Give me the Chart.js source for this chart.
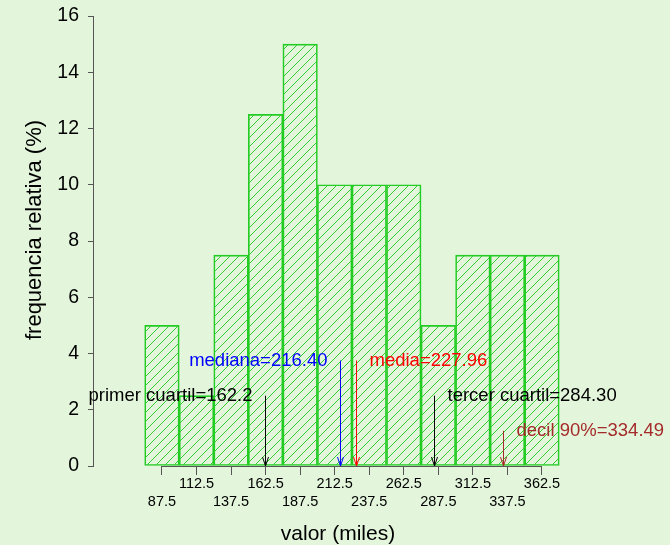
<!doctype html>
<html lang="es">
<head>
<meta charset="UTF-8">
<title>Histograma</title>
<style>
  html, body { margin: 0; padding: 0; background: #e3f6dc; }
  canvas { display: block; }
</style>
</head>
<body>
<canvas id="hist" width="670" height="545"></canvas>
<script src="https://cdn.jsdelivr.net/npm/chart.js@4.4.1/dist/chart.umd.min.js"></script>
<script>
// marcas de clase y frecuencias relativas (%)
var centros = [87.5, 112.5, 137.5, 162.5, 187.5, 212.5, 237.5, 262.5, 287.5, 312.5, 337.5, 362.5];
var frecuencias = [5, 2.5, 7.5, 12.5, 15, 10, 10, 10, 5, 7.5, 7.5, 7.5];
var marcasY = [0, 2, 4, 6, 8, 10, 12, 14, 16];

// estadisticos marcados con flechas
var etiquetas = ['primer cuartil=162.2', 'mediana=216.40', 'media=227.96', 'tercer cuartil=284.30', 'decil 90%=334.49'];
var valores = [162.2, 216.40, 227.96, 284.30, 334.49];
var alturas = [2.5, 3.75, 3.75, 2.5, 1.25];

var colores = ['#000000', '#0000ff', '#ff0000', '#000000', '#a52a2a'];
var lados = ['izq', 'izq', 'der', 'der', 'der'];

var tituloY = 'frequencia relativa (%)';

Chart.defaults.font.family = '"Liberation Sans", Arial, Helvetica, sans-serif';
Chart.defaults.color = '#000';

var rayado = (function () {
    var c = document.createElement('canvas');
    c.width = 9;
    c.height = 9;
    var g = c.getContext('2d');
    g.strokeStyle = '#33cc33';
    g.lineWidth = 1;
    g.beginPath();
    g.moveTo(-1, 10); g.lineTo(10, -1);
    g.moveTo(-1, 1); g.lineTo(1, -1);
    g.moveTo(8, 10); g.lineTo(10, 8);
    g.stroke();
    return g.createPattern(c, 'repeat');
})();

var anotaciones = {
    id: 'anotaciones',
    afterDatasetsDraw: function (chart) {
        var x = chart.scales.x, y = chart.scales.y, ctx = chart.ctx;
        var base = y.getPixelForValue(0);
        ctx.save();
        // linea del eje x, solo entre la primera y la ultima marca
        ctx.strokeStyle = '#555';
        ctx.lineWidth = 1;
        ctx.beginPath();
        ctx.moveTo(x.getPixelForValue(centros[0]), Math.round(base) + 0.5);
        ctx.lineTo(x.getPixelForValue(centros[centros.length - 1]), Math.round(base) + 0.5);
        ctx.stroke();

        ctx.font = '18.5px "Liberation Sans", Arial, sans-serif';
        ctx.textBaseline = 'middle';
        valores.forEach(function (v, i) {
            var px = Math.round(x.getPixelForValue(v)) + 0.5;
            var top = y.getPixelForValue(alturas[i]);
            ctx.strokeStyle = colores[i];
            ctx.fillStyle = colores[i];
            ctx.beginPath();
            ctx.moveTo(px, top);
            ctx.lineTo(px, base);
            ctx.moveTo(px - 3, base - 9);
            ctx.lineTo(px, base);
            ctx.lineTo(px + 3, base - 9);
            ctx.stroke();
            if (lados[i] === 'izq') {
                ctx.textAlign = 'right';
                ctx.fillText(etiquetas[i], px - 13, top);
            } else {
                ctx.textAlign = 'left';
                ctx.fillText(etiquetas[i], px + 13, top);
            }
        });

        // titulo del eje y (R lo centra en la region de dibujo, algo mas arriba)
        var area = chart.chartArea;
        ctx.fillStyle = '#000';
        ctx.font = '22px "Liberation Sans", Arial, sans-serif';
        ctx.textAlign = 'center';
        ctx.translate(35, (area.top + area.bottom) / 2 - 11);
        ctx.rotate(-Math.PI / 2);
        ctx.fillText(tituloY, 0, 0);
        ctx.restore();
    }
};

var puntos = centros.map(function (c, i) {
    return {x: c, y: frecuencias[i]};
});

new Chart(document.getElementById('hist'), {
    type: 'bar',
    data: {
        datasets: [{
            data: puntos,
            backgroundColor: rayado,
            borderColor: '#22cc22',
            borderWidth: 1,
            borderSkipped: false,
            barPercentage: 1,
            categoryPercentage: 1
        }]
    },
    options: {
        responsive: false,
        animation: false,
        layout: {padding: {top: 16, right: 87, left: 0, bottom: 0}},
        plugins: {legend: {display: false}, tooltip: {enabled: false}},
        scales: {
            x: {
                type: 'linear',
                min: 37.6,
                max: 392.2,
                offset: false,
                grid: {offset: false, drawOnChartArea: false, color: '#555', tickLength: 9},
                border: {display: false},
                afterBuildTicks: function (s) {
                    s.ticks = centros.map(function (v) { return {value: v}; });
                },
                afterFit: function (s) { s.height = 79; },
                ticks: {
                    autoSkip: false,
                    maxRotation: 0,
                    padding: 0,
                    font: {size: 14.5, lineHeight: 1.22},
                    callback: function (v, i) {
                        var t = String(centros[i]);
                        return i % 2 === 0 ? ['', t] : [t, ''];
                    }
                },
                title: {
                    display: true,
                    text: 'valor (miles)',
                    font: {size: 21, lineHeight: 1},
                    padding: {top: 0, bottom: 0}
                }
            },
            y: {
                min: 0,
                max: 16,
                grid: {drawOnChartArea: false, color: '#555', tickLength: 5},
                border: {display: true, color: '#555'},
                afterBuildTicks: function (s) {
                    s.ticks = marcasY.map(function (v) { return {value: v}; });
                },
                afterFit: function (s) {
                    s.width = 93;
                    s.paddingTop = 0;
                    s.paddingBottom = 0;
                },
                ticks: {padding: 9, font: {size: 19.5}}
            }
        }
    },
    plugins: [anotaciones]
});
</script>
</body>
</html>
